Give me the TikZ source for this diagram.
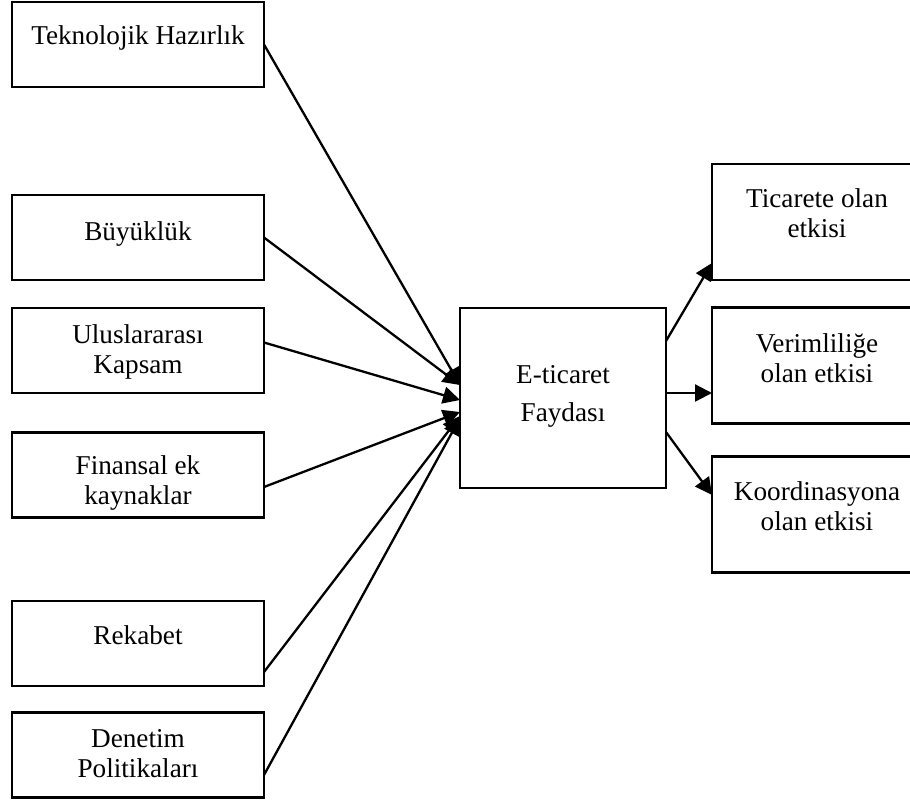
\documentclass[tikz,border=0pt]{standalone}
\usepackage{fontspec}
\setmainfont{Liberation Serif}
\usetikzlibrary{calc,arrows.meta}
\begin{document}
\begin{tikzpicture}[x=0.5pt,y=-0.5pt,
  box/.style={draw,line width=1.1pt,rectangle,inner sep=0pt,outer sep=0pt},
  leftbox/.style={box,minimum width=126pt,minimum height=42.5pt},
  rightbox/.style={box,minimum width=105pt,minimum height=58pt},
  label/.style={inner sep=0pt,align=center,anchor=base,
    font=\fontsize{13.6}{15}\selectfont},
  link/.style={line width=1.15pt,-{Triangle[length=8.5pt,width=8.5pt]}}]
\useasboundingbox (0,0) rectangle (910,802);
\clip (0,0) rectangle (910,802);

% factor boxes on the left
\node[leftbox] (tek) at (138,44.5) {};
\node[leftbox] (buy) at (138,237.5) {};
\node[leftbox] (ulu) at (138,350.5) {};
\node[leftbox] (fin) at (138,475) {};
\node[leftbox] (rek) at (138,643.5) {};
\node[leftbox] (den) at (138,755) {};

% central box
\node[box,minimum width=103pt,minimum height=90pt] (cen) at (563,398) {};

% outcome boxes on the right
\node[rightbox] (tic) at (817,222) {};
\node[rightbox] (ver) at (817,365.5) {};
\node[rightbox] (koo) at (817,514.5) {};

% texts (anchored on the baseline of the last line)
\node[label] (tekt) at (138,45) {Teknolojik Hazırlık};
\node[label] (buyt) at (138,241) {Büyüklük};
\node[label] (ulut) at (138,373) {Uluslararası\\Kapsam};
\node[label] (fint) at (138,504) {Finansal ek\\kaynaklar};
\node[label] (rekt) at (138,644) {Rekabet};
\node[label] (dent) at (138,777) {Denetim\\Politikaları};
\node[label,font=\fontsize{13.6}{19}\selectfont] (cent) at (563,421) {E-ticaret\\Faydası};
\node[label] (tict) at (817,238) {Ticarete olan\\etkisi};
\node[label] (vert) at (817,382) {Verimliliğe\\olan etkisi};
\node[label] (koot) at (817,530) {Koordinasyona\\olan etkisi};

% incoming connectors
\draw[link] (tek.east) -- ($(cen.west)+(0,-13)$);
\draw[link] (buy.east) -- ($(cen.west)+(0,-13)$);
\draw[link] ($(ulu.east)+(0,-8)$) -- ($(cen.west)+(0,2)$);
\draw[link] ($(fin.east)+(0,12)$) -- ($(cen.west)+(0,14)$);
\draw[link] ($(rek.east)+(0,28.5)$) -- ($(cen.west)+(0,18)$);
\draw[link] ($(den.east)+(0,20)$) -- ($(cen.west)+(0,20)$);

% outgoing connectors
\draw[link] ($(cen.east)+(0,-57)$) -- ($(tic.west)+(0,41)$);
\draw[link] ($(cen.east)+(0,-5)$) -- ($(ver.west)+(0,27.5)$);
\draw[link] ($(cen.east)+(0,34)$) -- ($(koo.west)+(0,-19.5)$);
\end{tikzpicture}
\end{document}
